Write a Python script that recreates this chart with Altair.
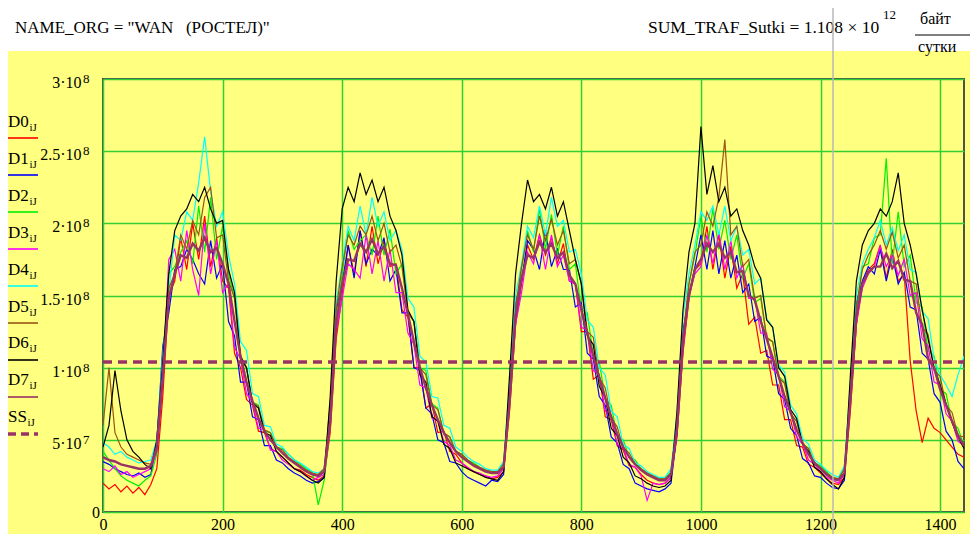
import altair as alt
import pandas as pd

FONT = "Liberation Serif"

# sample times (every 10 intervals), values in units of 1e6 bytes
x_vals = list(range(0, 1441, 10))

D0 = [20, 16, 19, 14, 18, 13, 17, 12, 19, 30,
      80, 150, 160, 190, 168, 200, 175, 205, 170, 190,
      160, 155, 110, 100, 78, 74, 56, 55, 44, 42,
      38, 34, 30, 29, 26, 24, 22, 25, 55, 120,
      150, 185, 165, 195, 170, 198, 172, 188, 170, 172,
      140, 135, 100, 100, 72, 75, 55, 56, 42, 40,
      34, 30, 28, 26, 25, 23, 24, 28, 70, 130,
      158, 185, 175, 192, 178, 190, 172, 186, 160, 158,
      125, 125, 92, 95, 66, 64, 46, 43, 32, 31,
      26, 22, 20, 19, 20, 24, 52, 110, 148, 168,
      172, 198, 168, 192, 162, 184, 155, 165, 130, 135,
      110, 112, 88, 88, 64, 64, 46, 45, 33, 31,
      27, 23, 20, 19, 24, 70, 130, 158, 168, 172,
      185, 162, 182, 160, 165, 105, 70, 48, 65, 58,
      55, 50, 45, 40, 38]

D1 = [35, 33, 30, 28, 26, 25, 27, 24, 26, 48,
      115, 138, 168, 170, 182, 175, 165, 158, 188, 162,
      172, 132, 122, 90, 90, 66, 64, 46, 46, 36,
      34, 30, 27, 25, 22, 20, 21, 24, 72, 140,
      158, 185, 162, 195, 172, 182, 178, 190, 160, 168,
      138, 138, 100, 98, 72, 68, 50, 48, 35, 34,
      28, 24, 22, 20, 18, 22, 21, 26, 85, 145,
      160, 188, 182, 168, 195, 170, 182, 168, 168, 142,
      145, 110, 106, 80, 74, 52, 48, 33, 30, 20,
      18, 16, 15, 14, 16, 20, 55, 125, 150, 170,
      192, 168, 195, 165, 188, 162, 178, 152, 158, 132,
      135, 108, 106, 82, 78, 58, 53, 37, 34, 25,
      24, 20, 17, 16, 22, 85, 145, 160, 170, 165,
      182, 160, 178, 158, 166, 142, 140, 110, 106, 82,
      76, 56, 50, 35, 30]

D2 = [42, 36, 30, 25, 22, 20, 18, 22, 25, 40,
      100, 165, 170, 180, 188, 172, 212, 180, 218, 175,
      198, 165, 148, 108, 100, 76, 74, 56, 55, 45,
      44, 40, 36, 33, 30, 28, 5, 22, 60, 130,
      165, 195, 182, 188, 192, 178, 205, 178, 196, 165,
      172, 138, 132, 100, 98, 75, 72, 54, 52, 42,
      40, 36, 34, 31, 29, 28, 28, 34, 78, 138,
      168, 195, 180, 210, 182, 206, 178, 198, 168, 172,
      140, 138, 108, 104, 78, 74, 52, 50, 38, 36,
      30, 27, 25, 23, 23, 28, 62, 118, 158, 178,
      205, 180, 210, 182, 202, 175, 192, 162, 172, 145,
      148, 120, 118, 94, 90, 68, 63, 47, 44, 34,
      32, 28, 24, 23, 30, 78, 138, 170, 172, 190,
      192, 245, 172, 208, 170, 178, 145, 142, 112, 108,
      85, 82, 62, 58, 46]

D3 = [30, 28, 32, 26, 28, 24, 26, 28, 30, 42,
      90, 175, 182, 160, 195, 168, 150, 200, 165, 188,
      152, 158, 114, 106, 82, 76, 58, 57, 43, 42,
      36, 33, 30, 28, 25, 22, 24, 26, 60, 125,
      148, 172, 168, 162, 192, 165, 188, 160, 182, 152,
      152, 124, 116, 88, 86, 65, 63, 49, 46, 36,
      34, 31, 28, 27, 25, 24, 25, 30, 75, 130,
      152, 180, 172, 192, 168, 192, 170, 178, 160, 158,
      128, 126, 98, 95, 70, 66, 47, 44, 33, 31,
      25, 8, 20, 19, 20, 24, 55, 112, 150, 165,
      170, 192, 172, 194, 168, 188, 162, 172, 148, 148,
      124, 124, 99, 95, 73, 70, 52, 47, 36, 33,
      28, 24, 22, 20, 26, 75, 130, 155, 165, 170,
      184, 170, 178, 164, 175, 150, 152, 120, 115, 90,
      88, 68, 63, 49, 46]

D4 = [48, 45, 40, 42, 38, 36, 34, 35, 36, 50,
      110, 152, 192, 188, 208, 202, 228, 260, 222, 198,
      208, 178, 158, 118, 112, 82, 80, 60, 59, 47,
      45, 40, 36, 34, 31, 28, 27, 30, 70, 145,
      172, 198, 188, 212, 192, 218, 198, 208, 188, 195,
      182, 148, 142, 108, 104, 80, 79, 60, 58, 45,
      42, 38, 35, 33, 30, 29, 29, 35, 90, 150,
      172, 198, 190, 212, 192, 218, 198, 202, 180, 182,
      165, 133, 128, 100, 95, 70, 66, 47, 44, 34,
      32, 28, 26, 24, 24, 30, 68, 135, 165, 185,
      208, 202, 212, 192, 212, 188, 198, 178, 182, 158,
      162, 134, 128, 102, 97, 74, 68, 51, 47, 36,
      33, 29, 26, 24, 32, 90, 150, 172, 182, 190,
      202, 185, 197, 181, 192, 168, 166, 139, 134, 106,
      95, 88, 80, 95, 108]

D5 = [60, 100, 55, 45, 40, 38, 36, 34, 33, 42,
      90, 155, 165, 192, 182, 202, 192, 218, 225, 190,
      192, 160, 148, 105, 100, 76, 73, 57, 55, 45,
      43, 38, 35, 32, 29, 27, 26, 30, 75, 140,
      170, 192, 185, 198, 192, 205, 188, 200, 180, 185,
      170, 138, 132, 100, 95, 74, 71, 55, 52, 42,
      40, 36, 33, 31, 29, 28, 28, 33, 82, 142,
      170, 192, 182, 205, 188, 203, 185, 195, 172, 175,
      158, 125, 121, 93, 86, 65, 59, 44, 41, 33,
      30, 27, 25, 23, 23, 27, 62, 122, 158, 180,
      185, 208, 198, 218, 258, 192, 198, 170, 175, 148,
      150, 121, 118, 93, 89, 68, 63, 47, 44, 33,
      31, 27, 24, 23, 30, 82, 142, 168, 178, 185,
      195, 182, 194, 176, 185, 160, 158, 128, 123, 98,
      94, 74, 69, 53, 52]

D6 = [45, 60, 98, 70, 50, 42, 38, 33, 30, 50,
      105, 165, 195, 205, 210, 220, 215, 225, 210, 200,
      202, 168, 152, 108, 100, 75, 72, 55, 53, 42,
      38, 34, 30, 28, 25, 22, 20, 24, 80, 160,
      210, 225, 215, 235, 220, 230, 215, 225, 205, 195,
      178, 140, 132, 95, 90, 66, 63, 47, 44, 34,
      32, 30, 28, 26, 24, 23, 22, 28, 95, 165,
      200, 230, 215, 220, 210, 225, 205, 215, 195, 175,
      158, 122, 116, 87, 79, 58, 53, 38, 34, 25,
      23, 20, 18, 17, 18, 22, 70, 140, 180, 200,
      267, 220, 240, 215, 225, 205, 210, 195, 185, 170,
      162, 133, 128, 100, 94, 71, 65, 47, 42, 31,
      28, 23, 19, 16, 24, 95, 160, 185, 195, 200,
      210, 205, 215, 235, 200, 185, 165, 140, 120, 100,
      88, 75, 62, 52, 44]

D7 = [38, 36, 35, 33, 32, 31, 30, 30, 32, 45,
      95, 148, 165, 178, 176, 186, 181, 190, 180, 183,
      172, 158, 132, 108, 90, 77, 65, 56, 50, 45,
      41, 37, 34, 31, 28, 26, 25, 28, 62, 130,
      158, 175, 174, 186, 180, 189, 179, 184, 172, 171,
      155, 137, 118, 100, 86, 74, 64, 55, 48, 42,
      38, 35, 32, 30, 28, 27, 27, 31, 76, 135,
      162, 178, 176, 187, 180, 186, 176, 180, 164, 158,
      140, 124, 108, 93, 79, 66, 54, 45, 38, 33,
      29, 26, 24, 22, 22, 26, 58, 118, 150, 168,
      175, 186, 180, 186, 176, 180, 166, 167, 150, 147,
      132, 120, 107, 94, 80, 69, 57, 48, 40, 34,
      30, 26, 23, 22, 27, 78, 135, 158, 166, 170,
      170, 179, 169, 174, 161, 160, 138, 130, 106, 100,
      85, 74, 63, 53, 46]

SS_LEVEL = 104          # mean level, 1e6 bytes
SS_X = [0, 1440]

series_names = ["D0", "D1", "D2", "D3", "D4", "D5", "D6", "D7"]
series_values = [D0, D1, D2, D3, D4, D5, D6, D7]
series_colors = ["#FF0000", "#0000FF", "#00F000", "#FF00FF", "#00FFFF",
                 "#995511", "#000000", "#993366"]
SS_COLOR = "#993366"

x_ticks = [0, 200, 400, 600, 800, 1000, 1200, 1400]
y_grid = [0, 50, 100, 150, 200, 250, 300]
y_lab_vals = [50, 100, 150, 200, 250, 300]
y_lab_base = ["5·10", "1·10", "1.5·10", "2·10", "2.5·10", "3·10"]
y_lab_exp = ["7", "8", "8", "8", "8", "8"]

for s in series_values:
    assert len(s) == len(x_vals), len(s)

XS = alt.Scale(domain=[0, 1440], nice=False, zero=False)
YS = alt.Scale(domain=[0, 300], nice=False)

X_AXIS = alt.Axis(values=x_ticks, grid=True, ticks=False, domain=False, title=None,
                  labelFont=FONT, labelFontSize=16, labelColor="black",
                  labelPadding=4, labelFlush=False, format="d")
Y_AXIS = alt.Axis(values=y_grid, grid=True, ticks=False, domain=False, labels=False,
                  title=None)

layers = []
hdr = pd.DataFrame({"a": [0]})


def txt(s, x, y, size=17, align="left"):
    return alt.Chart(pd.DataFrame({"t": [s]})).mark_text(
        font=FONT, fontSize=size, align=align, baseline="alphabetic", color="black"
    ).encode(x=alt.value(x), y=alt.value(y), text="t:N")


# data series first (carry the axes)
for k, (nm, vals, col) in enumerate(zip(series_names, series_values, series_colors)):
    df = pd.DataFrame({"x": x_vals, "y": vals})
    w = 2.4 if nm == "D7" else 1.2
    layers.append(alt.Chart(df).mark_line(color=col, strokeWidth=w, clip=True).encode(
        x=alt.X("x:Q", scale=XS, axis=X_AXIS),
        y=alt.Y("y:Q", scale=YS, axis=Y_AXIS)))

ss_df = pd.DataFrame({"x": SS_X, "y": [SS_LEVEL, SS_LEVEL]})
layers.append(alt.Chart(ss_df).mark_line(color=SS_COLOR, strokeWidth=3.5, strokeDash=[9, 6],
                                         clip=True).encode(
    x=alt.X("x:Q", scale=XS, axis=X_AXIS), y=alt.Y("y:Q", scale=YS, axis=Y_AXIS)))

# y-axis labels with superscripts
ylab = pd.DataFrame({"v": y_lab_vals, "base": y_lab_base, "exp": y_lab_exp})
layers.append(alt.Chart(ylab).mark_text(font=FONT, fontSize=16, align="right",
                                        baseline="alphabetic", dy=9, color="black").encode(
    x=alt.value(-21.5), y=alt.Y("v:Q", scale=YS, axis=Y_AXIS), text="base:N"))
layers.append(alt.Chart(ylab).mark_text(font=FONT, fontSize=13, align="left",
                                        baseline="alphabetic", dy=4, color="black").encode(
    x=alt.value(-20), y=alt.Y("v:Q", scale=YS, axis=Y_AXIS), text="exp:N"))
layers.append(alt.Chart(pd.DataFrame({"v": [0], "t": ["0"]})).mark_text(
    font=FONT, fontSize=16, align="right", baseline="alphabetic", dy=6, color="black").encode(
    x=alt.value(-3), y=alt.Y("v:Q", scale=YS, axis=Y_AXIS), text="t:N"))

# header band
layers.append(alt.Chart(hdr).mark_rect(color="white").encode(
    x=alt.value(-95), x2=alt.value(867), y=alt.value(-71), y2=alt.value(-28)))
layers.append(txt("NAME_ORG = \"WAN\u00a0\u00a0\u00a0(РОСТЕЛ)\"", -88, -46))
layers.append(txt("SUM_TRAF_Sutki = 1.108 × 10", 545, -46, size=17.5))
layers.append(txt("12", 780, -60, size=13))
layers.append(txt("байт", 817, -55, size=16))
layers.append(txt("сутки", 815, -27, size=16))
layers.append(alt.Chart(hdr).mark_rule(color="black", strokeWidth=1).encode(
    x=alt.value(812), x2=alt.value(867), y=alt.value(-44)))

# legend
leg_names = series_names + ["SS"]
leg_colors = series_colors + [SS_COLOR]
for i, (nm, col) in enumerate(zip(leg_names, leg_colors)):
    by = 48 + 36.9 * i
    ly = 59 + 37 * i
    layers.append(txt(nm, -95, by, size=17))
    layers.append(txt("iJ", -75.5 if nm == "SS" else -73.5, by + 4, size=11))
    if nm == "SS":
        layers.append(alt.Chart(hdr).mark_rule(color=col, strokeWidth=3.5, strokeDash=[8, 5]).encode(
            x=alt.value(-95), x2=alt.value(-65), y=alt.value(ly)))
    else:
        layers.append(alt.Chart(hdr).mark_rule(color=col, strokeWidth=1.6).encode(
            x=alt.value(-95), x2=alt.value(-65), y=alt.value(ly)))

# gray cursor line
layers.append(alt.Chart(hdr).mark_rule(color="#B8B8B8", strokeWidth=1.5).encode(
    x=alt.value(730), y=alt.value(-71), y2=alt.value(470)))

chart = alt.layer(*layers).properties(
    width=861, height=433,
    padding={"left": 95, "top": 71, "right": 6, "bottom": 22},
    autosize=alt.AutoSizeParams(type="none"),
).configure(background="#FFFF80").configure_view(
    fill="#FFFF80", stroke="#505050", strokeWidth=2
).configure_axis(gridColor="#30D030", gridWidth=1.5, gridOpacity=1)

chart.save("out.html", embed_options={"renderer": "svg", "actions": False})
